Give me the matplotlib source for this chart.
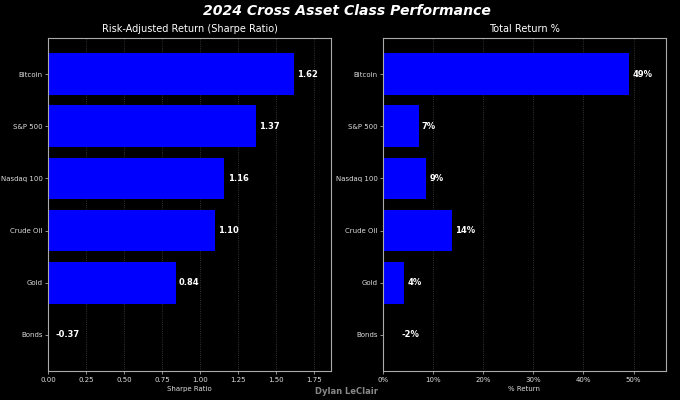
import matplotlib
matplotlib.use('Agg')
import matplotlib.pyplot as plt
from matplotlib.ticker import FuncFormatter

assets = ['Bitcoin', 'S&P 500', 'Nasdaq 100', 'Crude Oil', 'Gold', 'Bonds']
sharpe = [1.62, 1.37, 1.16, 1.10, 0.84, -0.37]
total_return = [49.1, 7.1, 8.6, 13.7, 4.2, -1.7]

plt.rcParams['font.family'] = 'DejaVu Sans'

fig = plt.figure(figsize=(6.8, 4), dpi=100, facecolor='black')
ax1 = fig.add_axes([48/680, 1-371/400, 283/680, 333/400])
ax2 = fig.add_axes([383/680, 1-371/400, 283/680, 333/400])

def draw(ax, vals, title, xlabel, fmt, tickfmt, neg_x):
    ax.set_facecolor('black')
    y = list(range(len(assets)))
    ax.barh(y, vals, height=0.8, color='#0000ff')
    ax.set_yticks(y)
    ax.set_yticklabels(assets)
    ax.invert_yaxis()
    xmax = max(vals) * 1.15
    ax.set_xlim(0, xmax)
    pad = 0.012 * xmax
    for yi, v in zip(y, vals):
        x = v + pad if v >= 0 else neg_x * xmax
        ax.text(x, yi, fmt(v), color='white', fontsize=6, fontweight='bold',
                va='center', ha='left')
    ax.set_title(title, color='white', fontsize=7, pad=4)
    ax.set_xlabel(xlabel, color='#dddddd', fontsize=5, labelpad=2.5)
    ax.xaxis.set_major_formatter(FuncFormatter(tickfmt))
    ax.tick_params(labelsize=5, length=2.5, width=0.6, pad=1.5,
                   colors='#aaaaaa', labelcolor='#dddddd')
    for s in ax.spines.values():
        s.set_color('#aaaaaa')
        s.set_linewidth(0.8)
    ax.grid(axis='x', linestyle=':', color='#555555', alpha=0.8, linewidth=0.6)
    ax.set_axisbelow(True)

draw(ax1, sharpe, 'Risk-Adjusted Return (Sharpe Ratio)', 'Sharpe Ratio',
     lambda v: f'{v:.2f}', lambda t, p: f'{t:.2f}', 0.028)
ax1.set_xticks([0, 0.25, 0.5, 0.75, 1.0, 1.25, 1.5, 1.75])
draw(ax2, total_return, 'Total Return %', '% Return',
     lambda v: f'{v:.0f}%', lambda t, p: f'{t:.0f}%', 0.066)
ax2.set_xticks([0, 10, 20, 30, 40, 50])

fig.text(0.51, 0.972, '2024 Cross Asset Class Performance', color='white',
         fontsize=10.1, fontweight='bold', fontstyle='italic', ha='center', va='center')
fig.text(0.51, 0.022, 'Dylan LeClair', color='#888888', fontsize=6,
         fontweight='bold', ha='center', va='center')

fig.savefig('out.png', dpi=100, facecolor='black')
